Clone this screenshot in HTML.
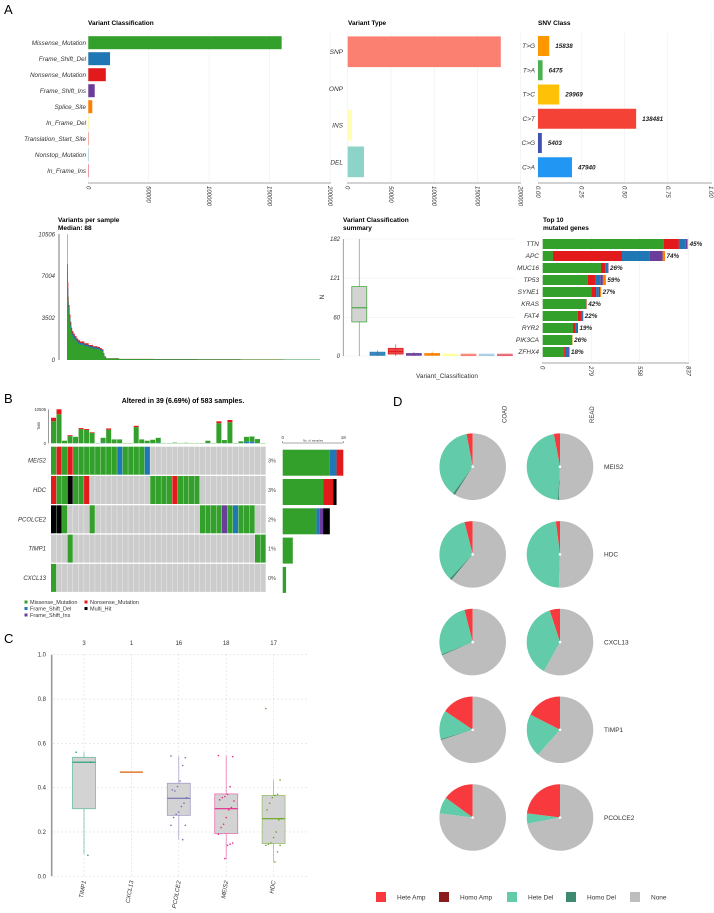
<!DOCTYPE html>
<html><head><meta charset="utf-8"><style>
html,body{margin:0;padding:0;background:#fff}
svg{display:block;font-family:"Liberation Sans",Arial,sans-serif}
</style></head><body>
<svg id="fig" width="714" height="913" viewBox="0 0 714 913" xmlns="http://www.w3.org/2000/svg">
<text x="4" y="14" font-size="13">A</text>
<text x="4" y="403" font-size="13">B</text>
<text x="4" y="643" font-size="13">C</text>
<text x="393" y="406" font-size="13">D</text>
<text x="88" y="25" font-size="6.5" font-weight="bold">Variant Classification</text>
<text x="348" y="25" font-size="6.5" font-weight="bold">Variant Type</text>
<text x="538" y="25" font-size="6.5" font-weight="bold">SNV Class</text>
<text x="58" y="222" font-size="6.5" font-weight="bold">Variants per sample</text>
<text x="58" y="230" font-size="6.5" font-weight="bold">Median: 88</text>
<text x="343" y="222" font-size="6.5" font-weight="bold">Variant Classification</text>
<text x="343" y="230" font-size="6.5" font-weight="bold">summary</text>
<text x="543" y="222" font-size="6.5" font-weight="bold">Top 10</text>
<text x="543" y="230" font-size="6.5" font-weight="bold">mutated genes</text>
<text x="447" y="378" font-size="6.5" text-anchor="middle" fill="#333">Variant_Classification</text>
<text x="324" y="297" font-size="6.5" fill="#333" transform="rotate(-90 324 297)" text-anchor="middle">N</text>
<text x="183" y="403" font-size="7" font-weight="bold" text-anchor="middle">Altered in 39 (6.69%) of 583 samples.</text>
<g id="root"></g>
</svg>
<script>
// ---------- data ----------
const vcCats=['Missense_Mutation','Frame_Shift_Del','Nonsense_Mutation','Frame_Shift_Ins','Splice_Site','In_Frame_Del','Translation_Start_Site','Nonstop_Mutation','In_Frame_Ins'];
const vcVals=[160000,18000,14500,5300,3300,1000,300,200,150];
const vcColors=['#33a02c','#1f78b4','#e31a1c','#6a3d9a','#ff7f00','#ffff99','#fb8072','#a6cee3','#e8656f'];
const vtCats=['SNP','ONP','INS','DEL'];
const vtVals=[177000,0,5000,18800];
const vtColors=['#fb8072','#bebada','#ffffb3','#8dd3c7'];
const axTicks200k=[0,50000,100000,150000,200000];
const snvCats=['T>G','T>A','T>C','C>T','C>G','C>A'];
const snvCounts=[15838,6475,29969,138481,5403,47940];
const snvColors=['#ff9800','#4caf50','#ffc107','#f44336','#3f51b5','#2196f3'];
const snvTicks=['0.00','0.25','0.50','0.75','1.00'];
const tmbRank=[0,1,2,3,4,6,8,10,12,15,18,22,26,30,40,50,60,70,76,80,84,86,90,120,200,300,400,500,583];
const tmbTotal=[10506,8000,6500,5300,4600,3800,3200,2700,2400,2200,2000,1800,1650,1550,1400,1250,1150,1100,1000,900,600,300,150,90,70,60,50,40,30];
const tmbTicks=[0,3502,7004,10506];
const sumQ1=[53,1,3,1,1,0.5,0.5,0.5,0.5];
const sumMed=[75,3,7,2,2,1,1,1,1];
const sumQ3=[108,6,12,4,4,3,3,3,3];
const sumLo=[0,0,0,0,0,0,0,0,0];
const sumHi=[182,9,18,6,7,3,3,3,3];
const sumTicks=[0,60,121,182];
const topGenes=['TTN','APC','MUC16','TP53','SYNE1','KRAS','FAT4','RYR2','PIK3CA','ZFHX4'];
const topMiss=[697,59,335,260,280,251,201,174,170,123];
const topNons=[86,397,25,44,27,2,19,15,0,8];
const topFSD=[40,157,15,27,15,0,11,11,0,17];
const topFSI=[8,77,3,15,8,0,2,3,0,6];
const topSpl=[5,13,0,17,6,0,0,0,2,0];
const topPct=['45%','74%','26%','59%','27%','42%','22%','19%','26%','18%'];
const topTicks=[0,279,558,837];
// oncoplot
const obGreen=[6800,9000,800,2200,2000,4400,4100,3200,100,1500,4200,1200,1200,100,100,5000,1200,800,1100,1500,100,100,200,100,150,100,100,100,700,100,6200,900,6500,100,600,1500,1600,1300,100];
const obRed=[1100,1500,0,300,0,300,300,200,0,0,400,0,0,0,0,400,0,0,0,0,0,0,0,0,0,0,0,0,0,0,600,0,700,0,0,0,0,0,0];
const obBlue=[0,0,0,0,0,0,0,0,0,200,0,0,0,0,0,0,0,0,0,200,0,0,0,0,0,0,0,0,100,0,0,100,0,0,0,500,500,0,0];
const oncoGenes=['MEIS2','HDC','PCOLCE2','TIMP1','CXCL13'];
const oncoRows=['GRGRGGGGGGGGBGGGGB.....................','RGGKGGR...........GGGGRGGGG............','KKG....G...................GGGGPGBGGG..','...G.................................GG','G......................................'];
const oncoPct=['3%','3%','2%','1%','0%'];
const rbMiss=[14,12,10,3,1];
const rbFSD=[2,0,1,0,0];
const rbNons=[2,3,0,0,0];
const rbFSI=[0,0,1,0,0];
const rbMulti=[0,1,2,0,0];
// panel C
const cCats=['TIMP1','CXCL13','PCOLCE2','MEIS2','HDC'];
const cN=['3','1','16','18','17'];
const cQ1=[0.305,0.47,0.275,0.193,0.148];
const cMed=[0.515,0.47,0.352,0.305,0.26];
const cQ3=[0.537,0.47,0.42,0.372,0.365];
const cLo=[0.1,0.47,0.165,0.077,0.065];
const cHi=[0.56,0.47,0.543,0.545,0.435];
const cColors=['#1b9e77','#d95f02','#7570b3','#e7298a','#66a61e'];
const cPts=[[0.56,0.515,0.095],[0.47],[0.543,0.535,0.5,0.43,0.405,0.385,0.39,0.355,0.33,0.315,0.29,0.28,0.265,0.23,0.23,0.165],[0.545,0.54,0.405,0.37,0.36,0.355,0.345,0.34,0.31,0.3,0.265,0.235,0.22,0.19,0.15,0.145,0.14,0.08],[0.757,0.435,0.37,0.365,0.355,0.33,0.3,0.26,0.255,0.2,0.175,0.15,0.145,0.14,0.14,0.11,0.065]];
const cTicks=['0.0','0.2','0.4','0.6','0.8','1.0'];
// panel D
const dGenes=['MEIS2','HDC','CXCL13','TIMP1','PCOLCE2'];
const dCohorts=['COAD','READ'];
const dTypes=['Hete Amp','Homo Amp','Hete Del','Homo Del','None'];
const dColors=['#f8393d','#8b1a1a','#62cba9','#3d8a6e','#bdbdbd'];
const dHeteAmp=[[0.03,0.03],[0.04,0.02],[0.04,0.05],[0.155,0.175],[0.15,0.23]];
const dHomoAmp=[[0,0],[0,0],[0,0],[0,0],[0,0]];
const dHeteDel=[[0.37,0.46],[0.34,0.475],[0.27,0.37],[0.14,0.21],[0.08,0.05]];
const dHomoDel=[[0.01,0.005],[0.01,0],[0.005,0],[0.005,0],[0,0]];

// ---------- helpers ----------
const NS='http://www.w3.org/2000/svg';
const root=document.getElementById('root');
function mk(tag,attrs,parent){const e=document.createElementNS(NS,tag);for(const k in attrs)e.setAttribute(k,attrs[k]);(parent||root).appendChild(e);return e;}
function txt(s,attrs){const e=mk('text',attrs);e.textContent=s;return e;}
const F='font-size';

// ---------- A1 Variant classification ----------
const xA1=v=>88.3+v/200000*241.7, yA1=i=>42.7+16*i;
axTicks200k.forEach((t,i)=>{
  const g=mk('line',{x1:xA1(t),x2:xA1(t),y1:33,y2:182,stroke:'#eee','stroke-width':0.6});
  
  
  const l=txt(String(t),{x:xA1(t)-2,y:186,[F]:6,'font-style':'italic',fill:'#333',transform:`rotate(90 ${xA1(t)-2} 186)`});
  
  
});
vcCats.forEach((c,i)=>{
  const r=mk('rect',{x:xA1(0),y:yA1(i)-6.5,width:Math.max(0.6,xA1(vcVals[i])-xA1(0)),height:13,fill:vcColors[i]});
  
  
  const l=txt(c,{x:86,y:yA1(i)+2.2,[F]:6.3,'font-style':'italic','text-anchor':'end',fill:'#333'});
  
  
});
let ax=mk('line',{x1:88,x2:331,y1:183,y2:183,stroke:'#888','stroke-width':0.8});



// ---------- A2 Variant type ----------
const xA2=v=>347.7+v/200000*173, yA2=i=>51.7+36.7*i;
axTicks200k.forEach(t=>{
  const g=mk('line',{x1:xA2(t),x2:xA2(t),y1:33,y2:182,stroke:'#eee','stroke-width':0.6});
  
  
  const l=txt(String(t),{x:xA2(t)-2,y:186,[F]:6,'font-style':'italic',fill:'#333',transform:`rotate(90 ${xA2(t)-2} 186)`});
  
  
});
vtCats.forEach((c,i)=>{
  if(vtVals[i]>0){const r=mk('rect',{x:xA2(0),y:yA2(i)-15.3,width:xA2(vtVals[i])-xA2(0),height:30.7,fill:vtColors[i]});
  
  }
  const l=txt(c,{x:343,y:yA2(i)+2.5,[F]:6.5,'font-style':'italic','text-anchor':'end',fill:'#333'});
  
  
});
ax=mk('line',{x1:347,x2:521,y1:183,y2:183,stroke:'#888','stroke-width':0.8});



// ---------- A3 SNV class ----------
const snvTotal=snvCounts.reduce((a,b)=>a+b,0);
const xA3=f=>538+f*173, yA3=i=>46+24.25*i;
snvTicks.forEach(t=>{
  const v=parseFloat(t);
  const g=mk('line',{x1:xA3(v),x2:xA3(v),y1:33,y2:182,stroke:'#eee','stroke-width':0.6});
  
  
  const l=txt(t,{x:xA3(v)-2,y:186,[F]:6,'font-style':'italic',fill:'#333',transform:`rotate(90 ${xA3(v)-2} 186)`});
  
  
});
snvCats.forEach((c,i)=>{
  const f=snvCounts[i]/snvTotal;
  const r=mk('rect',{x:xA3(0),y:yA3(i)-10,width:xA3(f)-xA3(0),height:20,fill:snvColors[i]});
  
  
  const l=txt(c,{x:535,y:yA3(i)+2.2,[F]:6.5,'font-style':'italic','text-anchor':'end',fill:'#333'});
  
  
  const v=txt(String(snvCounts[i]),{x:xA3(f)+6,y:yA3(i)+2.2,[F]:6.3,'font-style':'italic','font-weight':'bold',fill:'#222'});
  
  
});
ax=mk('line',{x1:538,x2:712,y1:183,y2:183,stroke:'#888','stroke-width':0.8});



// ---------- A4 Variants per sample ----------
const xA4=r=>67+r*(253/583), yA4=v=>360-v/10506*125.7;
function stepPath(frac){let d=`M${xA4(0)},${yA4(0)}`;for(let i=0;i<tmbRank.length;i++){const x0=xA4(tmbRank[i]);const x1=i+1<tmbRank.length?xA4(tmbRank[i+1]):xA4(583);const y=yA4(tmbTotal[i]*frac);d+=` L${x0},${y} L${x1},${y}`;}return d+` L${xA4(583)},${yA4(0)} Z`;}
[[1,'#e31a1c','tmb-area-nonsense'],[0.92,'#1f78b4','tmb-area-frameshift'],[0.82,'#33a02c','tmb-area-missense']].forEach(a=>{
  const p=mk('path',{d:stepPath(a[0]),fill:a[1]});
  
  
});
ax=mk('line',{x1:59,x2:59,y1:234,y2:360,stroke:'#aaa','stroke-width':1.6});


tmbTicks.forEach(t=>{
  const l=txt(String(t),{x:55,y:yA4(t)+2,[F]:6,'font-style':'italic','text-anchor':'end',fill:'#333'});
  
  
});

// ---------- A5 summary boxplot ----------
const yA5=v=>356-v/182*117, xA5=i=>359.3+18.2*i;
sumTicks.forEach(t=>{
  const g=mk('line',{x1:344,x2:515,y1:yA5(t),y2:yA5(t),stroke:'#f0f0f0','stroke-width':0.6});
  
  
  const l=txt(String(t),{x:340,y:yA5(t)+2,[F]:6,'font-style':'italic','text-anchor':'end',fill:'#333'});
  
  
});
ax=mk('line',{x1:343.3,x2:343.3,y1:239,y2:356,stroke:'#888','stroke-width':0.8});


vcCats.forEach((c,i)=>{
  const x=xA5(i),col=vcColors[i];
  const w=mk('line',{x1:x,x2:x,y1:yA5(sumLo[i]),y2:yA5(sumHi[i]),stroke:col,'stroke-width':0.8,opacity:0.7});
  
  
  const b=mk('rect',{x:x-7.5,y:yA5(sumQ3[i]),width:15,height:Math.max(1.5,yA5(sumQ1[i])-yA5(sumQ3[i])),fill:i==0?'#d3d3d3':col,stroke:col,'stroke-width':0.7,'fill-opacity':i==0?1:0.8});
  
  
  const m=mk('line',{x1:x-7.5,x2:x+7.5,y1:yA5(sumMed[i]),y2:yA5(sumMed[i]),stroke:col,'stroke-width':1});
  
  
});

// ---------- A6 top 10 genes ----------
const xA6=v=>542.7+v/837*145.6, yA6=i=>244+12*i;
topTicks.forEach(t=>{
  const g=mk('line',{x1:xA6(t),x2:xA6(t),y1:236,y2:363,stroke:'#eee','stroke-width':0.6});
  
  
  const l=txt(String(t),{x:xA6(t)-2,y:366,[F]:6,'font-style':'italic',fill:'#333',transform:`rotate(90 ${xA6(t)-2} 366)`});
  
  
});
ax=mk('line',{x1:542,x2:689,y1:363,y2:363,stroke:'#888','stroke-width':0.8});


topGenes.forEach((g,i)=>{
  let acc=0;
  [[topMiss,'#33a02c'],[topNons,'#e31a1c'],[topFSD,'#1f78b4'],[topFSI,'#6a3d9a'],[topSpl,'#ff7f00']].forEach(s=>{
    const v=s[0][i];if(v<=0)return;
    const r=mk('rect',{x:xA6(acc),y:yA6(i)-5,width:xA6(acc+v)-xA6(acc),height:10,fill:s[1]});
    
    
    acc+=v;
  });
  const l=txt(g,{x:539,y:yA6(i)+2.2,[F]:6.5,'font-style':'italic','text-anchor':'end',fill:'#333'});
  
  
  const p=txt(topPct[i],{x:xA6(acc)+1.5,y:yA6(i)+2.2,[F]:6.3,'font-style':'italic','font-weight':'bold',fill:'#222'});
  
  
});

// ---------- B oncoplot ----------
const oColor={G:'#33a02c',R:'#e31a1c',B:'#1f78b4',P:'#6a3d9a',K:'#000000','.':'#cccccc'};
const xB=c=>51+c*5.513, yTMB=v=>443.3-v/10506*34, yRow=i=>446.7+i*29.3;
ax=mk('line',{x1:48.3,x2:48.3,y1:409.3,y2:443.3,stroke:'#555','stroke-width':0.6});


[['10506',409.3],['0',443.3]].forEach(a=>{const l=txt(a[0],{x:46,y:a[1]+1.5,[F]:4.2,'text-anchor':'end',fill:'#333'});
  
  });
let tl=txt('TMB',{x:40,y:426,[F]:3.8,'text-anchor':'middle',fill:'#333',transform:'rotate(-90 40 426)'});


obGreen.forEach((g,c)=>{
  let acc=0;
  [[obBlue[c],'#1f78b4'],[g,'#33a02c'],[obRed[c],'#e31a1c']].forEach(s=>{
    if(s[0]<=0)return;
    const r=mk('rect',{x:xB(c),y:yTMB(acc+s[0]),width:5,height:yTMB(acc)-yTMB(acc+s[0]),fill:s[1]});
    
    
    acc+=s[0];
  });
});
oncoRows.forEach((row,i)=>{
  for(let c=0;c<row.length;c++){
    const r=mk('rect',{x:xB(c),y:yRow(i),width:5.2,height:28,fill:oColor[row[c]]});
    
    
  }
  const l=txt(oncoGenes[i],{x:46,y:yRow(i)+16,[F]:6,'font-style':'italic','text-anchor':'end',fill:'#333'});
  
  
  const p=txt(oncoPct[i],{x:268,y:yRow(i)+16,[F]:5.5,fill:'#444'});
  
  
  let acc=0;
  [[rbMiss,'#33a02c'],[rbFSD,'#1f78b4'],[rbFSI,'#6a3d9a'],[rbNons,'#e31a1c'],[rbMulti,'#000000']].forEach(s=>{
    const v=s[0][i];if(v<=0)return;
    const x0=282.7+acc/18*60.6, x1=282.7+(acc+v)/18*60.6;
    const r=mk('rect',{x:x0,y:yRow(i)+3,width:x1-x0,height:26,fill:s[1]});
    
    
    acc+=v;
  });
});
ax=mk('path',{d:'M282.7,441 V443 H343.3 V441',fill:'none',stroke:'#555','stroke-width':0.5});


[['0',282.7],['18',343.3]].forEach(a=>{const l=txt(a[0],{x:a[1],y:439,[F]:4.5,'text-anchor':'middle',fill:'#333'});
  
  });
tl=txt('No. of samples',{x:313,y:441.5,[F]:3,'text-anchor':'middle',fill:'#333'});


[['Missense_Mutation','#33a02c',26,602],['Nonsense_Mutation','#e31a1c',86,602],['Frame_Shift_Del','#1f78b4',26,608.5],['Multi_Hit','#000000',86,608.5],['Frame_Shift_Ins','#6a3d9a',26,615]].forEach(a=>{
  const s=mk('rect',{x:a[2]-1.5,y:a[3]-1.5,width:3,height:3,fill:a[1]});
  
  
  const l=txt(a[0],{x:a[2]+4,y:a[3]+2,[F]:5.5,fill:'#333'});
  
  
});

// ---------- C boxplots ----------
const yC=v=>876.3-v*221.6, xC=i=>84+i*47.4;
cTicks.forEach(t=>{
  const v=parseFloat(t);
  const g=mk('line',{x1:53,x2:307,y1:yC(v),y2:yC(v),stroke:'#ddd','stroke-width':0.6,'stroke-dasharray':'2,2'});
  
  
  const l=txt(t,{x:46,y:yC(v)+2,[F]:6,'text-anchor':'end',fill:'#333'});
  
  
});
ax=mk('line',{x1:51.7,x2:51.7,y1:654.7,y2:876.3,stroke:'#999','stroke-width':1.6});


cCats.forEach((c,i)=>{
  const x=xC(i),col=cColors[i];
  const vg=mk('line',{x1:x,x2:x,y1:654,y2:876,stroke:'#ddd','stroke-width':0.6,'stroke-dasharray':'2,2'});
  
  
  const n=txt(cN[i],{x:x,y:645,[F]:6,'text-anchor':'middle',fill:'#333'});
  
  
  const l=txt(c,{x:x+2,y:881,[F]:6,'font-style':'italic','text-anchor':'end',fill:'#333',transform:`rotate(-80 ${x+2} 881)`});
  
  
  if(cQ3[i]>cQ1[i]){
    const w=mk('line',{x1:x,x2:x,y1:yC(cLo[i]),y2:yC(cHi[i]),stroke:col,'stroke-width':0.8,opacity:0.6});
    
    
    const b=mk('rect',{x:x-11.5,y:yC(cQ3[i]),width:23,height:yC(cQ1[i])-yC(cQ3[i]),fill:'#d3d3d3',stroke:col,'stroke-width':0.8,'stroke-opacity':0.6});
    
    
  }
  const m=mk('line',{x1:x-11.5,x2:x+11.5,y1:yC(cMed[i]),y2:yC(cMed[i]),stroke:col,'stroke-width':1.2});
  
  
  if(i!==1) cPts[i].forEach((v,k)=>{
    const dx=((k*37)%13-6)*1.3;
    const p=mk('circle',{cx:x+dx,cy:yC(v),r:0.8,fill:col});
    
    
  });
});

// ---------- D pies ----------
const pieCx=j=>472.7+j*87.3, pieCy=i=>466.7+i*87.7, R=33.3;
function arc(cx,cy,a0,a1){ // fractions, ccw from top
  const p=f=>{const a=-f*2*Math.PI;return [cx+R*Math.sin(a),cy-R*Math.cos(a)];};
  const [x0,y0]=p(a0),[x1,y1]=p(a1);const large=(a1-a0)>0.5?1:0;
  return `M${cx},${cy} L${x0},${y0} A${R},${R} 0 ${large} 0 ${x1},${y1} Z`;
}
dCohorts.forEach((c,j)=>{
  const x=pieCx(j)+34;
  const l=txt(c,{x:x,y:423,[F]:6,fill:'#333',transform:`rotate(-90 ${x} 423)`});
  
  
});
dGenes.forEach((g,i)=>{
  dCohorts.forEach((c,j)=>{
    const cx=pieCx(j),cy=pieCy(i);
    const vals=[dHeteAmp[i][j],dHomoAmp[i][j],dHeteDel[i][j],dHomoDel[i][j]];
    vals.push(1-vals.reduce((a,b)=>a+b,0));
    let acc=0;
    vals.forEach((v,k)=>{
      if(v<=0)return;
      const p=mk('path',{d:v>=0.999?`M${cx-R},${cy} A${R},${R} 0 1 0 ${cx+R},${cy} A${R},${R} 0 1 0 ${cx-R},${cy}Z`:arc(cx,cy,acc,acc+v),fill:dColors[k]});
      
      
      acc+=v;
    });
    const d=mk('circle',{cx:cx,cy:cy,r:1.3,fill:'#fff'});
    
    
  });
  const l=txt(g,{x:604,y:pieCy(i)+2.3,[F]:6.5,fill:'#333'});
  
  
});
const legX=[381,444,512,571,635];
dTypes.forEach((t,k)=>{
  const s=mk('rect',{x:legX[k]-5,y:892,width:10,height:10,fill:dColors[k]});
  
  
  const l=txt(t,{x:legX[k]+16,y:899.5,[F]:6.5,fill:'#333'});
  
  
});
</script>
</body></html>
